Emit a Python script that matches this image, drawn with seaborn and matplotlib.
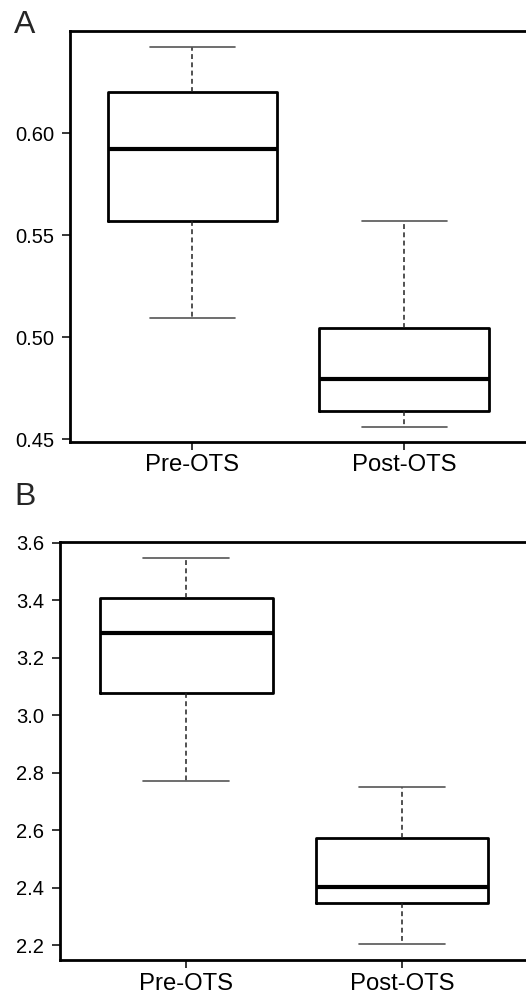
import numpy as np
import pandas as pd
import matplotlib
matplotlib.use("Agg")
import matplotlib.pyplot as plt
from matplotlib.ticker import FormatStrFormatter
import seaborn as sns

# Five-number summaries (min, Q1, median, Q3, max)
groups = ["Pre-OTS", "Post-OTS"]
a_pre = [0.5096, 0.5567, 0.5923, 0.6202, 0.6423]
a_post = [0.4559, 0.4639, 0.4794, 0.5047, 0.5567]
b_pre = [2.771, 3.075, 3.286, 3.406, 3.548]
b_post = [2.203, 2.348, 2.403, 2.573, 2.750]
a_ticks = [0.45, 0.50, 0.55, 0.60]
b_ticks = [2.2, 2.4, 2.6, 2.8, 3.0, 3.2, 3.4, 3.6]

sns.set_style("ticks")
plt.rcParams["font.family"] = ["Liberation Sans", "DejaVu Sans"]

fig = plt.figure(figsize=(5.26, 9.94), dpi=100)
axA = fig.add_axes([70 / 526, 1 - 441.7 / 994, 1 - 70 / 526 + 0.01, (441.7 - 31) / 994])
axB = fig.add_axes([60 / 526, 1 - 960 / 994, 1 - 60 / 526 + 0.01, (960 - 541.7) / 994])


def make_df(pre, post):
    return pd.DataFrame({
        "group": [groups[0]] * len(pre) + [groups[1]] * len(post),
        "value": list(pre) + list(post),
    })


def draw(ax, df, ylim, xlim, ticks, fmt):
    sns.boxplot(
        data=df, x="group", y="value", order=groups, ax=ax,
        whis=(0, 100), width=0.8, fill=False, color="black",
        boxprops=dict(linewidth=2.0, color="black"),
        medianprops=dict(linewidth=3.0, color="black"),
        whiskerprops=dict(linewidth=1.1, color="#222222", linestyle=(0, (3.2, 2.2))),
        capprops=dict(linewidth=1.2, color="#555555"),
    )
    ax.set_ylim(*ylim)
    ax.set_xlim(*xlim)
    ax.set_yticks(ticks)
    ax.yaxis.set_major_formatter(FormatStrFormatter(fmt))
    ax.set_xlabel("")
    ax.set_ylabel("")
    for s in ["left", "top", "bottom"]:
        ax.spines[s].set_linewidth(2.0)
        ax.spines[s].set_color("black")
    ax.spines["right"].set_visible(False)
    ax.tick_params(axis="y", length=6, width=1.1, labelsize=14.5, pad=5.5, colors="black")
    ax.tick_params(axis="x", length=6, width=1.1, labelsize=17.2, pad=3, colors="black")
    ax.set_facecolor("white")


draw(axA, make_df(a_pre, a_post), (0.4488, 0.650), (-0.578, 1.60), a_ticks, "%.2f")
draw(axB, make_df(b_pre, b_post), (2.148, 3.603), (-0.586, 1.60), b_ticks, "%.1f")

fig.text(14 / 526, 1 - 33 / 994, "A", fontsize=23, ha="left", va="baseline")
fig.text(14 / 526, 1 - 505 / 994, "B", fontsize=23, ha="left", va="baseline")

fig.savefig("out.png", dpi=100, facecolor="white")
